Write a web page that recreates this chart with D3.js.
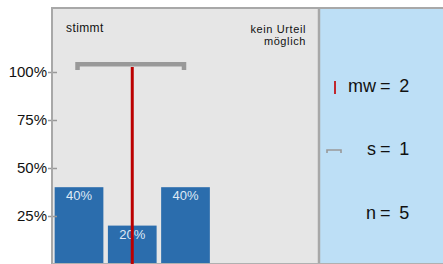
<!DOCTYPE html>
<html>
<head>
<meta charset="utf-8">
<script src="https://cdn.jsdelivr.net/npm/d3@7"></script>
<style>
  html, body { margin: 0; padding: 0; background: #ffffff; }
  svg { display: block; font-family: Arial, "Liberation Sans", sans-serif; }
</style>
</head>
<body>
<svg id="chart" width="443" height="264"></svg>
<script>
// ---- data ----
const categories = ["1", "2", "3", "4", "5"];
const values = [40, 20, 40, 0, 0];
const yTicks = [25, 50, 75, 100];
const leftLabel = "stimmt";
const rightLabel = ["kein Urteil", "möglich"];
const meanValue = 2;
const sdValue = 1;
const nValue = 5;
const legendLabels = ["mw", "s", "n"];
const legendNumbers = [meanValue, sdValue, nValue];

// ---- layout ----
const W = 443, H = 264;
const plotLeft = 52, plotRight = 319, plotTop = 8, plotBottom = 264;
const svg = d3.select("#chart");

const x = d3.scaleBand().domain(categories).range([plotLeft, plotRight])
  .paddingInner(0.085).paddingOuter(0.05);
const y = d3.scaleLinear().domain([0, 100]).range([264, 72]);
const xc = v => x(String(v)) + x.bandwidth() / 2;

// backgrounds
svg.append("rect").attr("x", plotLeft).attr("y", plotTop)
  .attr("width", plotRight - plotLeft).attr("height", plotBottom - plotTop)
  .attr("fill", "#e6e6e6");
svg.append("rect").attr("x", plotRight).attr("y", plotTop)
  .attr("width", W - plotRight).attr("height", plotBottom - plotTop)
  .attr("fill", "#bddff6");

// bars
svg.append("g").selectAll("rect").data(categories).join("rect")
  .attr("x", d => x(d))
  .attr("y", (d, i) => y(values[i]))
  .attr("width", x.bandwidth())
  .attr("height", (d, i) => y(0) - y(values[i]))
  .attr("fill", "#2b6dad");

// bar labels
svg.append("g").selectAll("text").data(categories.filter((d, i) => values[i] > 0)).join("text")
  .attr("x", d => x(d) + x.bandwidth() / 2)
  .attr("y", d => y(values[categories.indexOf(d)]) + 13)
  .attr("text-anchor", "middle")
  .attr("font-size", 13)
  .attr("fill", "#dfe9f5")
  .text(d => values[categories.indexOf(d)] + "%");

// y axis
const yAxis = d3.axisLeft(y).tickValues(yTicks).tickFormat(d => d + "%")
  .tickSizeInner(4).tickSizeOuter(0).tickPadding(1);
const gy = svg.append("g").attr("transform", `translate(${plotLeft},0)`).call(yAxis);
gy.select(".domain").remove();
gy.selectAll(".tick line").attr("stroke", "#999").attr("stroke-width", 1.5).attr("x1", 5);
gy.selectAll(".tick text").attr("font-size", 15).attr("fill", "#111")
  .attr("font-family", "Arial, 'Liberation Sans', sans-serif");

// frame lines
svg.append("line").attr("x1", plotLeft).attr("x2", W).attr("y1", plotTop).attr("y2", plotTop)
  .attr("stroke", "#a8a8a8").attr("stroke-width", 2);
svg.append("line").attr("x1", plotLeft).attr("x2", plotLeft).attr("y1", plotTop - 1).attr("y2", H)
  .attr("stroke", "#a8a8a8").attr("stroke-width", 2);
svg.append("line").attr("x1", plotRight).attr("x2", plotRight).attr("y1", plotTop).attr("y2", H)
  .attr("stroke", "#a8a8a8").attr("stroke-width", 2.5);
svg.append("line").attr("x1", plotLeft).attr("x2", W).attr("y1", 263.5).attr("y2", 263.5)
  .attr("stroke", "#b0b0b0").attr("stroke-width", 1);

// category end labels
svg.append("text").attr("x", 66).attr("y", 32)
  .attr("font-size", 12).attr("letter-spacing", 0.4).attr("fill", "#111").text(leftLabel);
svg.append("g").selectAll("text").data(rightLabel).join("text")
  .attr("x", 306).attr("y", (d, i) => 32.5 + i * 12.5)
  .attr("text-anchor", "end")
  .attr("font-size", 11).attr("letter-spacing", 0.6).attr("fill", "#111").text(d => d);

// sd bracket
const bx0 = xc(meanValue - sdValue), bx1 = xc(meanValue + sdValue);
svg.append("path")
  .attr("d", `M${bx0 - 1.5},70 V64.3 H${bx1 - 1.5} V70`)
  .attr("fill", "none").attr("stroke", "#999").attr("stroke-width", 4.5)
  .attr("stroke-linejoin", "miter");

// mean line
svg.append("line").attr("x1", xc(meanValue)).attr("x2", xc(meanValue))
  .attr("y1", 67).attr("y2", H)
  .attr("stroke", "#bb0000").attr("stroke-width", 3);

// legend
const legY = [92, 155, 219];
svg.append("line").attr("x1", 335).attr("x2", 335).attr("y1", 81).attr("y2", 94)
  .attr("stroke", "#c0282f").attr("stroke-width", 2);
svg.append("path").attr("d", "M327,153 V150 H341 V153")
  .attr("fill", "none").attr("stroke", "#999").attr("stroke-width", 1.6);
const leg = svg.append("g").attr("font-size", 18).attr("fill", "#111");
leg.selectAll("text.lab").data(legendLabels).join("text").attr("class", "lab")
  .attr("x", 376).attr("y", (d, i) => legY[i]).attr("text-anchor", "end").text(d => d);
leg.selectAll("text.eq").data(legendLabels).join("text").attr("class", "eq")
  .attr("x", 380).attr("y", (d, i) => legY[i]).text("=");
leg.selectAll("text.num").data(legendNumbers).join("text").attr("class", "num")
  .attr("x", 399.3).attr("y", (d, i) => legY[i]).text(d => d);
</script>
</body>
</html>
